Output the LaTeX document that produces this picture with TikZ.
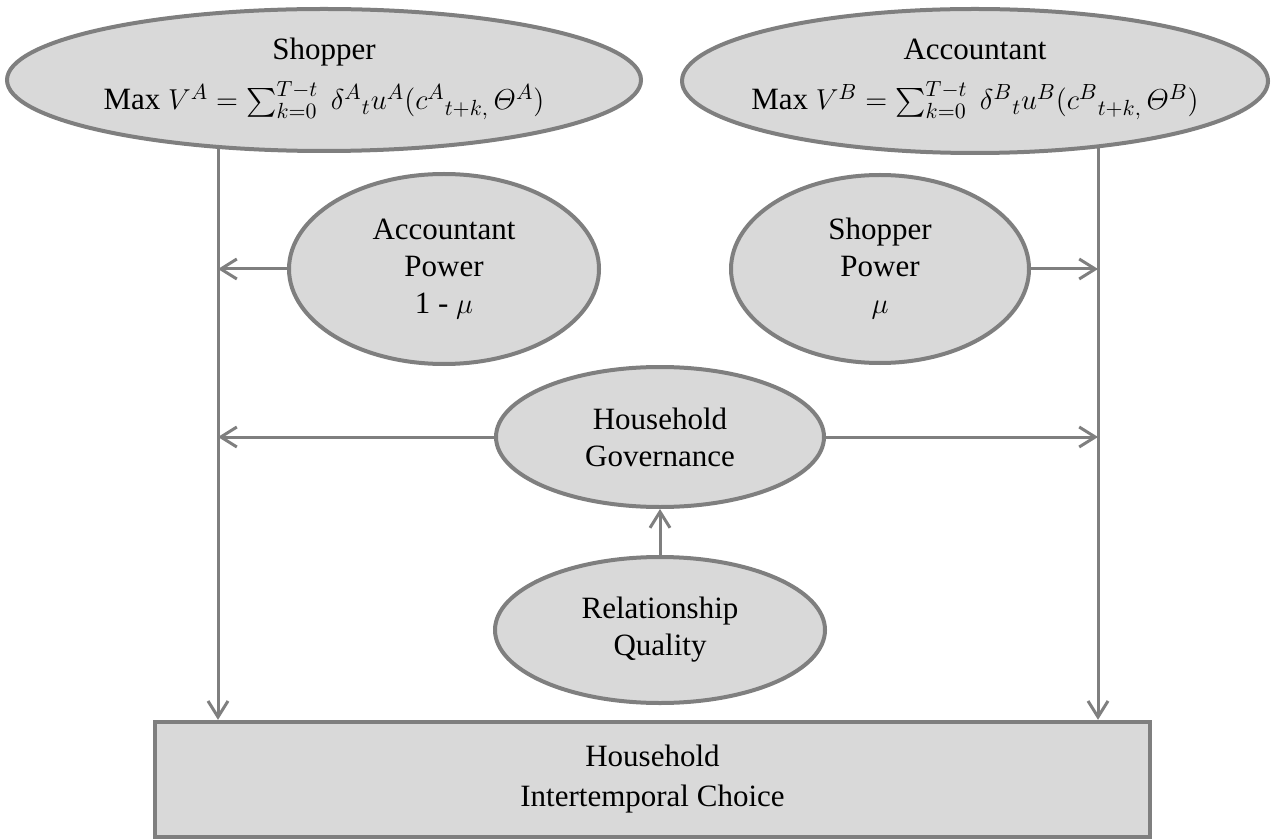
\documentclass[tikz,border=0pt]{standalone}
\usepackage{amsmath}
\usepackage{fontspec}
\setmainfont{Liberation Serif}
\usetikzlibrary{shapes.geometric,arrows.meta}
\pgfdeclarelayer{background}
\pgfsetlayers{background,main}
\definecolor{bordergray}{HTML}{7F7F7F}
\definecolor{fillgray}{HTML}{D9D9D9}
\tikzset{
  oval/.style={ellipse, draw=bordergray, fill=fillgray, line width=2pt, inner sep=0pt, align=center,
    font=\fontsize{15.5}{18.5}\selectfont},
  ovaltext/.style={inner sep=0pt, anchor=base, font=\fontsize{15.5}{18.5}\selectfont},
  boxnode/.style={rectangle, draw=bordergray, fill=fillgray, line width=2.2pt, inner sep=0pt, align=center,
    font=\fontsize{15.5}{20}\selectfont},
  conn/.style={draw=bordergray, line width=1.5pt},
  arr/.style={conn, -{Straight Barb[length=8pt, width=10pt, line width=1.5pt]}}
}
\begin{document}
\begin{tikzpicture}[x=0.5pt, y=-0.5pt]
\useasboundingbox (0,0) rectangle (1272,839);
\coordinate (L) at (218,0);
\coordinate (R) at (1098,0);
\node[oval, minimum width=317pt, minimum height=71pt] (shop) at (324,80) {};
\node[ovaltext] (shopname) at (324,60) {Shopper};
\node[ovaltext] (shopmath) at (324,110)
  {Max $V^{A}=\sum_{k=0}^{T-t}\ \delta^{A}{}_{t}u^{A}(c^{A}{}_{t+k,}\,\varTheta^{A})$};
\node[oval, minimum width=293pt, minimum height=72pt] (acct) at (975,81) {};
\node[ovaltext] (acctname) at (975,60) {Accountant};
\node[ovaltext] (acctmath) at (975,110)
  {Max $V^{B}=\sum_{k=0}^{T-t}\ \delta^{B}{}_{t}u^{B}(c^{B}{}_{t+k,}\,\varTheta^{B})$};
\node[oval, minimum width=155pt, minimum height=95pt] (ap) at (444,269)
  {Accountant\\Power\\1 - $\mu$};
\node[oval, minimum width=149pt, minimum height=94pt] (sp) at (880,269)
  {Shopper\\Power\\$\mu$};
\node[oval, minimum width=164pt, minimum height=70pt] (hg) at (660,437)
  {Household\\Governance};
\node[oval, minimum width=165pt, minimum height=73pt] (rq) at (660,630)
  {Relationship\\Quality};
\node[boxnode, minimum width=497.5pt, minimum height=57.5pt] (box) at (652.5,779.5)
  {Household\\Intertemporal Choice};
\begin{pgfonlayer}{background}
\draw[arr] (shop.center -| L) -- (box.north -| L);
\draw[arr] (acct.center -| R) -- (box.north -| R);
\end{pgfonlayer}
\draw[arr] (ap.west) -- (ap.west -| L);
\draw[arr] (sp.east) -- (sp.east -| R);
\draw[arr] (hg.west) -- (hg.west -| L);
\draw[arr] (hg.east) -- (hg.east -| R);
\draw[arr] (rq.north) -- (hg.south);
\end{tikzpicture}
\end{document}
